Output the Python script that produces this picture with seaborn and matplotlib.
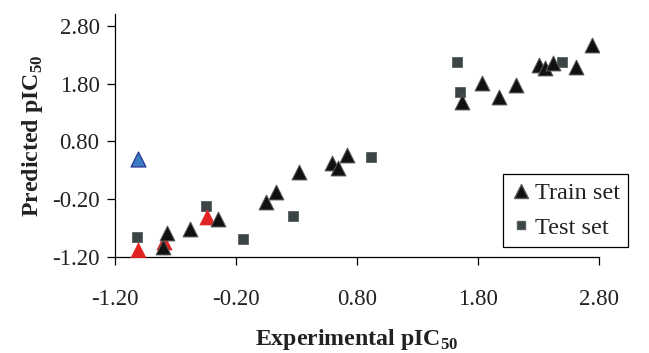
import pandas as pd
import seaborn as sns
import matplotlib.pyplot as plt

# values
train_x = [-0.80, -0.77, -0.58, -0.35, 0.05, 0.13, 0.32, 0.59, 0.64, 0.72,
           1.67, 1.83, 1.97, 2.11, 2.30, 2.35, 2.42, 2.61, 2.74]
train_y = [-1.03, -0.78, -0.72, -0.54, -0.25, -0.08, 0.27, 0.43, 0.34, 0.56,
           1.48, 1.81, 1.57, 1.78, 2.12, 2.07, 2.16, 2.09, 2.47]

test_x = [-1.02, -0.45, -0.14, 0.27, 0.92, 1.63, 1.65, 2.49]
test_y = [-0.85, -0.32, -0.89, -0.49, 0.53, 2.17, 1.65, 2.17]

# highlighted points (red) and outlier (blue)
red_x = [-1.01, -0.79, -0.44]
red_y = [-1.08, -0.94, -0.51]
blue_x = [-1.01]
blue_y = [0.50]

ticks = [-1.20, -0.20, 0.80, 1.80, 2.80]
tick_labels = ['-1.20', '-0.20', '0.80', '1.80', '2.80']

train = pd.DataFrame({'exp': train_x, 'pred': train_y})
test = pd.DataFrame({'exp': test_x, 'pred': test_y})
red = pd.DataFrame({'exp': red_x, 'pred': red_y})
blue = pd.DataFrame({'exp': blue_x, 'pred': blue_y})

sns.set_style('ticks')
plt.rcParams['font.family'] = ['Liberation Serif', 'DejaVu Serif']
plt.rcParams['mathtext.fontset'] = 'custom'
plt.rcParams['mathtext.rm'] = 'Liberation Serif'
plt.rcParams['mathtext.bf'] = 'Liberation Serif:bold'

fig = plt.figure(figsize=(6.49, 3.53), dpi=100)
ax = fig.add_axes([0.177, 0.272, 0.746, 0.688])

sns.scatterplot(data=test, x='exp', y='pred', marker='s', s=45,
                color='#3b4545', edgecolor='#555e5e', linewidth=0.6, ax=ax, zorder=3)
sns.scatterplot(data=red, x='exp', y='pred', marker='^', s=115,
                color='#e02222', edgecolor='#e02222', linewidth=0.6, ax=ax, zorder=3)
sns.scatterplot(data=blue, x='exp', y='pred', marker='^', s=115,
                color='#3b7cc4', edgecolor='#2a3590', linewidth=0.9, ax=ax, zorder=3)
sns.scatterplot(data=train, x='exp', y='pred', marker='^', s=115,
                color='#111111', edgecolor='#5a5a5a', linewidth=0.7, ax=ax, zorder=4)

ax.set_xlim(-1.2, 2.8)
ax.set_ylim(-1.2, 3.0)
ax.set_xticks(ticks)
ax.set_xticklabels(tick_labels)
ax.set_yticks(ticks)
ax.set_yticklabels(tick_labels)
ax.tick_params(axis='both', labelsize=16.5, length=6, width=0.9, color='black',
               labelcolor='#222222')
ax.tick_params(axis='x', pad=17)
ax.tick_params(axis='y', pad=5)

sns.despine(ax=ax)
for side in ['left', 'bottom']:
    ax.spines[side].set_color('black')
    ax.spines[side].set_linewidth(0.9)

ax.set_xlabel(r'Experimental pIC$_{\mathbf{50}}$', fontsize=17.2, fontweight='bold',
              color='#222222', labelpad=12)
ax.set_ylabel(r'Predicted pIC$_{\mathbf{50}}$', fontsize=17.2, fontweight='bold',
              color='#222222', labelpad=5)

h_train = plt.Line2D([], [], marker='^', linestyle='none', markersize=10.5,
                     markerfacecolor='#111111', markeredgecolor='#5a5a5a')
h_test = plt.Line2D([], [], marker='s', linestyle='none', markersize=6,
                    markerfacecolor='#3b4545', markeredgecolor='#555e5e')
leg = ax.legend([h_train, h_test], ['Train set', 'Test set'],
                loc='lower left', bbox_to_anchor=(0.775, 0.300),
                bbox_transform=fig.transFigure, borderaxespad=0, fontsize=17.5,
                frameon=True, fancybox=False, edgecolor='black', framealpha=1,
                handlelength=0.8, handletextpad=0.15, borderpad=0.35,
                labelspacing=0.5)
leg.get_frame().set_linewidth(0.9)
for t in leg.get_texts():
    t.set_color('#222222')

fig.savefig('out.png', dpi=100)
